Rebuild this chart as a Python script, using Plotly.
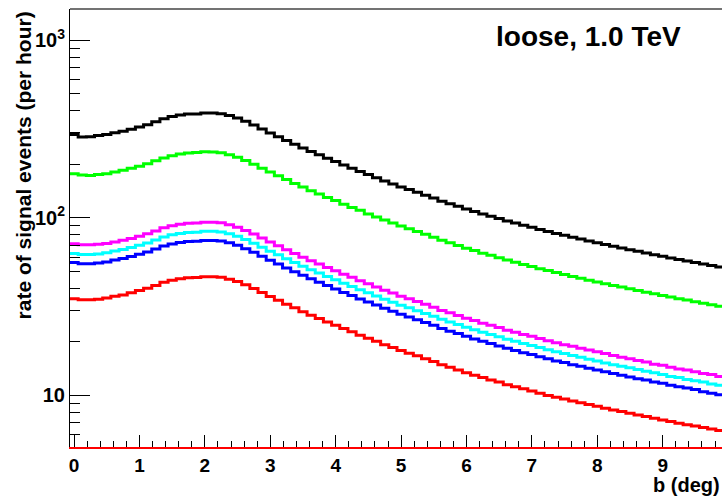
import numpy as np
import plotly.graph_objects as go

# 80 bins of width 0.125 deg, centred on 0, 0.125, ..., 9.875
bin_width = 0.125
n_bins = 80

black = [294, 285, 286, 290, 294, 301, 307, 315, 324, 334,
         347, 361, 371, 378, 383, 384, 388, 388, 385, 376,
         364, 349, 333, 316, 300, 286, 272, 259, 247, 236,
         226, 216, 207, 198, 190, 182, 175, 168, 161, 155,
         149, 144, 139, 134, 129, 124, 120, 116, 112, 108.5,
         105, 102, 99, 96, 93.3, 90.7, 88.3, 85.9, 83.7, 81.5,
         79.6, 77.6, 75.8, 74.0, 72.3, 70.6, 69.1, 67.6, 66.1, 64.7,
         63.3, 61.9, 60.7, 59.4, 58.2, 57.1, 56.0, 54.9, 53.9, 52.8]

green = [177, 174, 173, 175, 177, 181, 185, 190, 195, 201,
         209, 217, 223, 228, 231, 233, 235, 234, 232, 226,
         219, 210, 200, 190, 181, 172, 164, 156, 149, 142,
         136, 130, 125, 119, 114, 110, 105, 101, 97, 93.3,
         89.7, 86.7, 83.7, 80.7, 77.7, 74.6, 72.2, 69.8, 67.4, 65.3,
         63.2, 61.4, 59.6, 57.8, 56.2, 54.6, 53.2, 51.7, 50.4, 49.1,
         47.9, 46.7, 45.6, 44.5, 43.5, 42.5, 41.6, 40.7, 39.8, 38.9,
         38.1, 37.3, 36.5, 35.8, 35.0, 34.4, 33.7, 33.0, 32.4, 31.8]

magenta = [71.4, 70.5, 70.5, 71.0, 71.5, 73.1, 74.6, 76.5, 78.7, 81.2,
           84.3, 87.7, 90.2, 91.9, 93.1, 93.3, 94.3, 94.3, 93.6, 91.4,
           88.5, 84.8, 80.9, 76.8, 72.9, 69.5, 66.1, 62.9, 60.0, 57.3,
           54.9, 52.5, 50.3, 48.1, 46.2, 44.2, 42.5, 40.8, 39.1, 37.7,
           36.2, 35.0, 33.8, 32.6, 31.3, 30.1, 29.2, 28.2, 27.2, 26.4,
           25.5, 24.8, 24.1, 23.3, 22.7, 22.0, 21.5, 20.9, 20.3, 19.8,
           19.3, 18.9, 18.4, 18.0, 17.6, 17.2, 16.8, 16.4, 16.1, 15.7,
           15.4, 15.0, 14.8, 14.4, 14.1, 13.9, 13.6, 13.3, 13.1, 12.8]

cyan = [63.0, 62.0, 62.0, 62.6, 63.5, 65.0, 66.3, 68.0, 70.0, 72.1,
        75.0, 78.0, 80.1, 81.6, 82.7, 82.9, 83.8, 83.8, 83.2, 81.2,
        78.6, 75.4, 71.9, 68.3, 64.8, 61.8, 58.8, 55.9, 53.4, 51.0,
        48.8, 46.7, 44.7, 42.8, 41.0, 39.3, 37.8, 36.3, 34.8, 33.5,
        32.2, 31.1, 30.0, 28.9, 27.9, 26.8, 25.9, 25.1, 24.2, 23.4,
        22.7, 22.0, 21.4, 20.7, 20.2, 19.6, 19.1, 18.6, 18.1, 17.6,
        17.2, 16.8, 16.4, 16.0, 15.6, 15.2, 14.9, 14.6, 14.3, 14.0,
        13.7, 13.4, 13.1, 12.8, 12.6, 12.3, 12.1, 11.9, 11.6, 11.4]

blue = [56.0, 55.0, 55.0, 55.7, 56.4, 57.8, 58.9, 60.5, 62.2, 64.1,
        66.6, 69.3, 71.2, 72.6, 73.5, 73.7, 74.5, 74.5, 73.9, 72.2,
        69.9, 67.0, 63.9, 60.7, 57.6, 54.9, 52.2, 49.7, 47.4, 45.3,
        43.4, 41.5, 39.7, 38.0, 36.5, 34.9, 33.6, 32.3, 30.9, 29.8,
        28.6, 27.6, 26.7, 25.7, 24.8, 23.8, 23.0, 22.3, 21.5, 20.8,
        20.2, 19.6, 19.0, 18.4, 17.9, 17.4, 17.0, 16.5, 16.1, 15.6,
        15.3, 14.9, 14.6, 14.2, 13.9, 13.6, 13.3, 13.0, 12.7, 12.4,
        12.2, 11.9, 11.7, 11.4, 11.2, 11.0, 10.8, 10.5, 10.3, 10.1]

red = [35.0, 34.5, 34.5, 34.8, 35.3, 36.1, 36.8, 37.8, 38.9, 40.1,
       41.6, 43.3, 44.5, 45.4, 46.0, 46.1, 46.6, 46.6, 46.2, 45.1,
       43.7, 41.9, 40.0, 37.9, 36.0, 34.3, 32.6, 31.1, 29.6, 28.3,
       27.1, 25.9, 24.8, 23.8, 22.8, 21.8, 21.0, 20.2, 19.3, 18.6,
       17.9, 17.3, 16.7, 16.1, 15.5, 14.9, 14.4, 13.9, 13.4, 13.0,
       12.6, 12.2, 11.9, 11.5, 11.2, 10.9, 10.6, 10.3, 10.0, 9.78,
       9.55, 9.31, 9.10, 8.88, 8.68, 8.47, 8.29, 8.11, 7.93, 7.76,
       7.60, 7.43, 7.28, 7.13, 6.98, 6.85, 6.72, 6.59, 6.47, 6.34]

series = [("black", black), ("#00ff00", green), ("#ff00ff", magenta),
          ("#00ffff", cyan), ("#0000ff", blue), ("#ff0000", red)]

x_ticks = list(range(10))
y_ticks = [10, 100, 1000]
y_tick_text = ["10", "10<sup>2</sup>", "10<sup>3</sup>"]
y_minor = [m * 10 ** e for e in range(0, 4) for m in range(2, 10)]

edges = -bin_width / 2 + bin_width * np.arange(n_bins + 1)

fig = go.Figure()
for color, vals in series:
    fig.add_trace(go.Scatter(
        x=edges, y=list(vals) + [vals[-1]], mode="lines", line_shape="hv",
        line=dict(color=color, width=3), hoverinfo="skip"))

font_family = "Liberation Sans, Arial, sans-serif"
tick_font = dict(family=font_family, size=19, color="black", weight="bold")

fig.update_layout(
    width=722, height=497,
    margin=dict(l=70, r=0, t=9, b=50),
    plot_bgcolor="white", paper_bgcolor="white",
    showlegend=False,
    xaxis=dict(range=[-0.0625, 9.907], showline=True, linecolor="red", linewidth=2,
               ticks="inside", ticklen=12, tickcolor="black", tickwidth=1,
               tickmode="array", tickvals=x_ticks, ticktext=[str(t) for t in x_ticks],
               showgrid=False, zeroline=False, tickfont=tick_font,
               minor=dict(ticks="inside", ticklen=6, dtick=0.2, tick0=0,
                          tickcolor="black", tickwidth=1, showgrid=False)),
    yaxis=dict(type="log", range=[0.7098, 3.1746], showline=True, linecolor="black",
               linewidth=1, ticks="inside", ticklen=20, tickcolor="black", tickwidth=1,
               tickmode="array", tickvals=y_ticks, ticktext=y_tick_text,
               showgrid=False, zeroline=False,
               tickfont=dict(family=font_family, size=20, color="black", weight="bold"),
               minor=dict(ticks="inside", ticklen=10, tickmode="array", tickvals=y_minor,
                          tickcolor="black", tickwidth=1, showgrid=False)),
    shapes=[dict(type="line", xref="paper", yref="paper", x0=0, x1=1, y0=1, y1=1,
                 line=dict(color="#444444", width=1.5))],
    annotations=[
        dict(text="loose, 1.0 TeV", xref="paper", yref="paper", x=0.795, y=0.938,
             showarrow=False, xanchor="center", yanchor="middle",
             font=dict(family=font_family, size=28, color="black", weight="bold")),
        dict(text="rate of signal events (per hour)", xref="paper", yref="paper",
             x=-0.072, y=0.643, textangle=-90, showarrow=False,
             xanchor="center", yanchor="middle",
             font=dict(family=font_family, size=21, color="black", weight="bold")),
        dict(text="b (deg)", xref="paper", yref="paper", x=1.0, y=-0.1154,
             showarrow=False, xanchor="right", yanchor="bottom",
             font=dict(family=font_family, size=20, color="black", weight="bold")),
    ],
)

fig.write_html("out.html")
